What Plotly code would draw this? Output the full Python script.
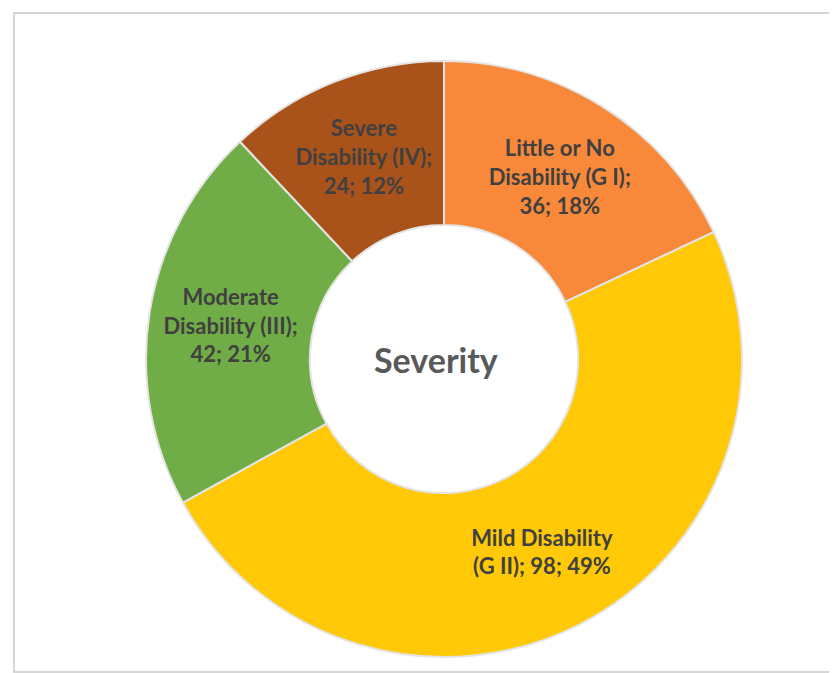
import plotly.graph_objects as go

categories = ["Little or No Disability (G I)", "Mild Disability (G II)",
              "Moderate Disability (III)", "Severe Disability (IV)"]
label_text = ["Little or No<br>Disability (G I);<br>", "Mild Disability<br>(G II); ",
              "Moderate<br>Disability (III);<br>", "Severe<br>Disability (IV);<br>"]
counts = [36, 98, 42, 24]
colors = ["#F8893A", "#FFC907", "#70AD47", "#A9531A"]
center_title = "Severity"

W, H = 837, 673
cx, cy, R = 436, 351, 298
ml, mt = cx - R, cy - R
mr, mb = W - ml - 2 * R, H - mt - 2 * R

fig = go.Figure(go.Pie(
    labels=categories, values=counts, customdata=label_text,
    hole=0.45, sort=False, direction="clockwise", rotation=0,
    marker=dict(colors=colors, line=dict(color="#E4E4E4", width=2)),
    texttemplate="%{customdata}%{value}; %{percent:.0%}",
    textposition="inside", insidetextorientation="horizontal",
    textfont=dict(family="Lato", size=22, color="#404040", weight="bold"),
    hoverinfo="label+value+percent", showlegend=False,
))

def px2paper(x, y):
    return (x - ml) / (2 * R), 1 - (y - mt) / (2 * R)

x0, y0 = px2paper(6, 5)
x1, y1 = px2paper(834, 664)
sx0, sy0 = px2paper(9, 8)
sx1, sy1 = px2paper(836, 667)
fig.add_shape(type="rect", xref="paper", yref="paper", x0=sx0, y0=sy0, x1=sx1, y1=sy1,
              line=dict(color="#BDBDBD", width=3), fillcolor="rgba(0,0,0,0)", layer="below")
fig.add_shape(type="rect", xref="paper", yref="paper", x0=x0, y0=y0, x1=x1, y1=y1,
              line=dict(color="#D6D6D6", width=2), fillcolor="white", layer="below")

fig.add_annotation(text=center_title, x=0.5, y=0.5, xref="paper", yref="paper", xshift=-8,
                   showarrow=False, font=dict(family="Lato", size=34, color="#595959", weight="bold"))

fig.update_layout(width=W, height=H, margin=dict(l=ml, r=mr, t=mt, b=mb),
                  paper_bgcolor="white", plot_bgcolor="white",
                  uniformtext=dict(minsize=22, mode="show"))
fig.write_html("out.html")
